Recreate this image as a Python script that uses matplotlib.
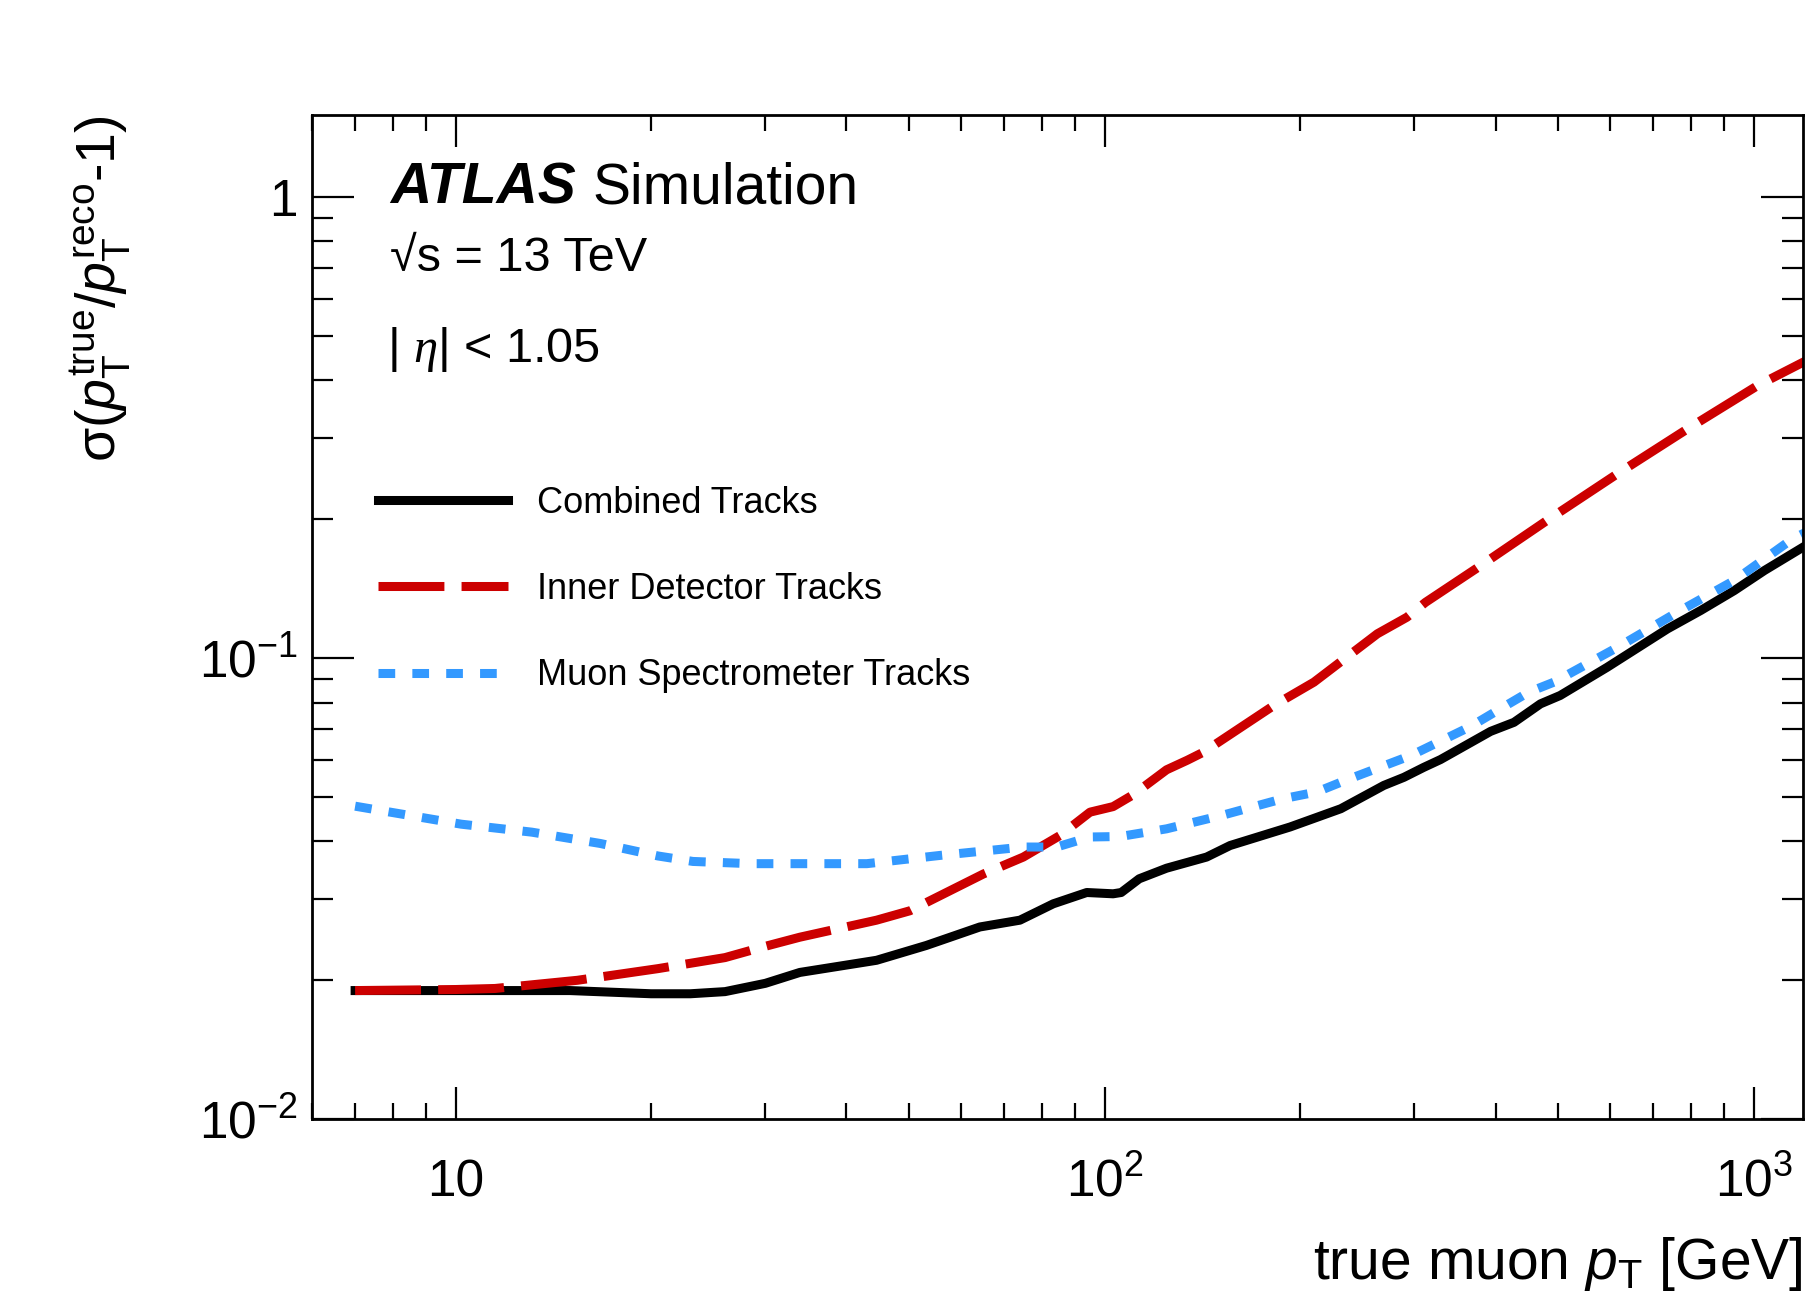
import numpy as np
import matplotlib
matplotlib.use('Agg')
import matplotlib.pyplot as plt
from matplotlib.ticker import FixedLocator, FuncFormatter, LogLocator, NullFormatter

# 폰트 설정
plt.rcParams['font.family'] = ['Liberation Sans', 'DejaVu Sans']
plt.rcParams['mathtext.fontset'] = 'custom'
plt.rcParams['mathtext.rm'] = 'Liberation Sans'
plt.rcParams['mathtext.it'] = 'Liberation Sans:italic'
plt.rcParams['mathtext.bf'] = 'Liberation Sans:bold'
plt.rcParams['mathtext.cal'] = 'Liberation Serif:italic'

# 데이터
cb_pt = [7, 10, 15, 20, 23, 26, 30, 33.9, 44.5, 53.1, 64.2, 74, 83.3, 93.8, 103, 106,
         113, 124.5, 143.5, 156, 193, 231, 269, 289, 310, 329, 393, 427, 469, 503,
         594, 736, 828, 933, 1038, 1200]
cb_res = [0.0190, 0.0190, 0.0190, 0.0187, 0.0187, 0.0189, 0.0197, 0.0208, 0.0221,
          0.0238, 0.0261, 0.0270, 0.0293, 0.0310, 0.0308, 0.0310, 0.0332, 0.0350,
          0.0370, 0.0392, 0.0430, 0.0471, 0.0529, 0.0551, 0.0579, 0.0602, 0.0693,
          0.0725, 0.0795, 0.0829, 0.0954, 0.1156, 0.1267, 0.140, 0.1547, 0.175]

id_pt = [7, 10, 11.5, 15.4, 20.5, 26, 30, 33.9, 44.5, 50.1, 65, 74.9, 85.3, 94.9, 103,
         110.6, 124.5, 134, 142, 182, 210, 263, 292, 312, 373, 481, 617, 791, 1015, 1200]
id_res = [0.0190, 0.0191, 0.0192, 0.0200, 0.0212, 0.0224, 0.0237, 0.0248, 0.0270,
          0.0283, 0.0340, 0.0370, 0.0412, 0.0463, 0.0476, 0.0505, 0.0572, 0.0600,
          0.0625, 0.0788, 0.0886, 0.1128, 0.1225, 0.132, 0.156, 0.199, 0.251, 0.314,
          0.390, 0.440]

ms_pt = [7, 10.2, 13.1, 16.7, 20.5, 23.2, 28.5, 43, 55.7, 74.9, 84.3, 94.9, 105.6,
         124.5, 151, 188, 212, 236, 296, 366, 407, 450, 492, 617, 763, 933, 1147, 1200]
ms_res = [0.0477, 0.0436, 0.0419, 0.0396, 0.0372, 0.0362, 0.0358, 0.0358, 0.0373,
          0.0389, 0.0389, 0.0409, 0.0410, 0.0426, 0.0455, 0.0495, 0.0512, 0.0544,
          0.0614, 0.0710, 0.0776, 0.0843, 0.0886, 0.1055, 0.1257, 0.1472, 0.1812, 0.187]

labels = ['Combined Tracks', 'Inner Detector Tracks', 'Muon Spectrometer Tracks']
colors = ['black', '#cc0000', '#3399ff']

fig = plt.figure(figsize=(18.12, 13.12), dpi=100)
ax = fig.add_axes([0.172, 0.147, 0.823, 0.765])

lw = 6.5
ax.plot(cb_pt, cb_res, color=colors[0], lw=lw, label=labels[0], solid_joinstyle='round')
ax.plot(id_pt, id_res, color=colors[1], lw=lw, label=labels[1], dashes=(7.3, 1.9))
ax.plot(ms_pt, ms_res, color=colors[2], lw=lw, label=labels[2], dashes=(1.85, 1.9))

ax.set_xscale('log')
ax.set_yscale('log')
ax.set_xlim(6, 1190)
ax.set_ylim(0.01, 1.5)

# 눈금
ax.xaxis.set_major_locator(FixedLocator([10, 100, 1000]))
ax.xaxis.set_minor_locator(LogLocator(base=10, subs=np.arange(2, 10)))
ax.yaxis.set_major_locator(FixedLocator([0.01, 0.1, 1]))
ax.yaxis.set_minor_locator(LogLocator(base=10, subs=np.arange(2, 10)))
xlab = {10: '10', 100: r'$10^{2}$', 1000: r'$10^{3}$'}
ylab = {0.01: r'$10^{-2}$', 0.1: r'$10^{-1}$', 1: '1'}
ax.xaxis.set_major_formatter(FuncFormatter(lambda v, p: xlab.get(round(v), '')))
ax.yaxis.set_major_formatter(FuncFormatter(lambda v, p: ylab.get(round(v, 3), '')))
ax.xaxis.set_minor_formatter(NullFormatter())
ax.yaxis.set_minor_formatter(NullFormatter())

ax.tick_params(which='both', direction='in', top=True, right=True, width=1.6, labelsize=37)
ax.tick_params(axis='y', which='major', length=30, pad=10)
ax.tick_params(axis='y', which='minor', length=15)
ax.tick_params(axis='x', which='major', length=23, pad=28)
ax.tick_params(axis='x', which='minor', length=11.5)
for s in ax.spines.values():
    s.set_linewidth(2)

# 축 이름
ax.set_xlabel('true muon ' + r'$p_{\mathrm{T}}$' + ' [GeV]', fontsize=41, loc='right')
ax.xaxis.set_label_coords(1.0, -0.115)
ax.set_ylabel('σ(' + r'$p_{\mathrm{T}}^{\mathrm{true}}/p_{\mathrm{T}}^{\mathrm{reco}}$' + '-1)',
              fontsize=40, loc='top')
ax.yaxis.set_label_coords(-0.12, 1.0)

# ATLAS 라벨
t1 = ax.text(0.0527, 0.912, 'ATLAS', transform=ax.transAxes, fontsize=41,
             fontweight='bold', fontstyle='italic', va='baseline')
ax.annotate('Simulation', xy=(1, 0), xycoords=t1, xytext=(12, 0),
            textcoords='offset points', fontsize=41, va='bottom')
ax.text(0.0527, 0.845, '√s = 13 TeV', transform=ax.transAxes,
        fontsize=35, va='baseline')
ax.text(0.0505, 0.754, r'| $\mathcal{\eta}$| < 1.05', transform=ax.transAxes,
        fontsize=35, va='baseline')

ax.legend(loc='upper left', bbox_to_anchor=(0.0443, 0.631), frameon=False,
          fontsize=26, handlelength=3.6, handletextpad=0.8, labelspacing=1.42,
          borderpad=0, borderaxespad=0)

fig.savefig('out.png', dpi=100)
